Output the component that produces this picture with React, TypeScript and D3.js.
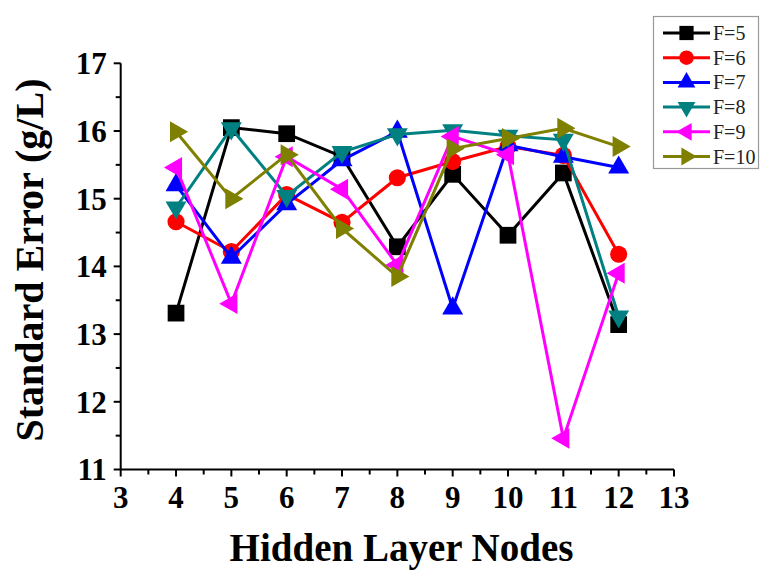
import React from "react";
import * as d3 from "d3";

const nodes = [4, 5, 6, 7, 8, 9, 10, 11, 12];
const seriesNames = ["F=5", "F=6", "F=7", "F=8", "F=9", "F=10"];
const f5 = [13.31, 16.05, 15.96, 15.62, 14.29, 15.36, 14.46, 15.38, 13.14];
const f6 = [14.66, 14.22, 15.06, 14.65, 15.31, 15.55, 15.77, 15.64, 14.18];
const f7 = [15.2, 14.13, 14.92, 15.57, 15.99, 13.38, 15.79, 15.62, 15.46];
const f8 = [14.87, 16.04, 15.04, 15.69, 15.95, 16.01, 15.93, 15.87, 13.26];
const f9 = [15.46, 13.45, 15.62, 15.14, 14.02, 15.92, 15.65, 11.46, 13.9];
const f10 = [15.99, 15.0, 15.65, 14.56, 13.85, 15.74, 15.89, 16.04, 15.77];
const allSeries = [f5, f6, f7, f8, f9, f10];
const colors = ["#000000", "#FF0000", "#0000FF", "#008080", "#FF00FF", "#808000"];
const xTicks = [3, 4, 5, 6, 7, 8, 9, 10, 11, 12, 13];
const yTicks = [11, 12, 13, 14, 15, 16, 17];

const W = 781;
const H = 588;
const x0 = 120.7, x1 = 674, y0 = 469.5, y1 = 63.3;

const x = d3.scaleLinear().domain([3, 13]).range([x0, x1]);
const y = d3.scaleLinear().domain([11, 17]).range([y0, y1]);

// marker shapes: square, circle, up, down, left, right
const shapes = [
  { type: d3.symbolSquare, size: 280, rot: 0 },
  { type: d3.symbolCircle, size: 230, rot: 0 },
  { type: d3.symbolTriangle, size: 190, rot: 0 },
  { type: d3.symbolTriangle, size: 190, rot: 180 },
  { type: d3.symbolTriangle, size: 190, rot: -90 },
  { type: d3.symbolTriangle, size: 190, rot: 90 },
];

function Marker({ i, cx, cy, scale = 1 }: { i: number; cx: number; cy: number; scale?: number }) {
  const s = shapes[i];
  const d = d3.symbol().type(s.type).size(s.size * scale * scale)() as string;
  return (
    <path
      d={d}
      fill={colors[i]}
      transform={`translate(${cx},${cy}) rotate(${s.rot})`}
    />
  );
}

export default function App() {
  const line = d3
    .line<number>()
    .x((_, j) => x(nodes[j]))
    .y((v) => y(v));

  const minorX = d3.range(3.5, 13, 1);
  const minorY = d3.range(11.5, 17, 1);
  const font = "'Liberation Serif', 'Times New Roman', serif";

  return (
    <svg
      width={W}
      height={H}
      style={{ position: "absolute", left: 0, top: 0, background: "#fff" }}
    >
      <rect x={0} y={0} width={W} height={H} fill="#fff" />
      {/* axes */}
      <line x1={x0} x2={x1} y1={y0} y2={y0} stroke="#000" strokeWidth={2} />
      <line x1={x0} x2={x0} y1={y0} y2={y1} stroke="#000" strokeWidth={2} />
      {xTicks.map((t) => (
        <g key={"xt" + t}>
          <line x1={x(t)} x2={x(t)} y1={y0} y2={y0 + 7} stroke="#000" strokeWidth={2} />
          <text
            x={x(t)}
            y={y0 + 38.5}
            textAnchor="middle"
            fontFamily={font}
            fontWeight="bold"
            fontSize={31}
          >
            {t}
          </text>
        </g>
      ))}
      {minorX.map((t) => (
        <line key={"xm" + t} x1={x(t)} x2={x(t)} y1={y0} y2={y0 + 5} stroke="#000" strokeWidth={2} />
      ))}
      {yTicks.map((t) => (
        <g key={"yt" + t}>
          <line x1={x0} x2={x0 - 7} y1={y(t)} y2={y(t)} stroke="#000" strokeWidth={2} />
          <text
            x={x0 - 14}
            y={y(t) + 10.8}
            textAnchor="end"
            fontFamily={font}
            fontWeight="bold"
            fontSize={31}
          >
            {t}
          </text>
        </g>
      ))}
      {minorY.map((t) => (
        <line key={"ym" + t} x1={x0} x2={x0 - 5} y1={y(t)} y2={y(t)} stroke="#000" strokeWidth={2} />
      ))}
      {/* axis titles */}
      <text
        x={401.5}
        y={561}
        textAnchor="middle"
        fontFamily={font}
        fontWeight="bold"
        fontSize={39}
      >
        Hidden Layer Nodes
      </text>
      <text
        transform={`translate(43,260) rotate(-90)`}
        textAnchor="middle"
        fontFamily={font}
        fontWeight="bold"
        fontSize={40}
      >
        Standard Error (g/L)
      </text>
      {/* series */}
      {allSeries.map((vals, i) => (
        <g key={"s" + i}>
          <path d={line(vals) as string} fill="none" stroke={colors[i]} strokeWidth={3} />
          {vals.map((v, j) => (
            <Marker key={j} i={i} cx={x(nodes[j])} cy={y(v)} />
          ))}
        </g>
      ))}
      {/* legend */}
      <rect x={653.5} y={16.5} width={105} height={152} fill="#fff" stroke="#999" strokeWidth={1.2} />
      {seriesNames.map((name, i) => {
        const ly = 33 + i * 24.7;
        return (
          <g key={"l" + i}>
            <line x1={663} x2={710} y1={ly} y2={ly} stroke={colors[i]} strokeWidth={3} />
            <Marker i={i} cx={686.5} cy={ly} scale={0.85} />
            <text x={713} y={ly + 7} fontFamily={font} fontSize={20} fill="#222">
              {name}
            </text>
          </g>
        );
      })}
    </svg>
  );
}
